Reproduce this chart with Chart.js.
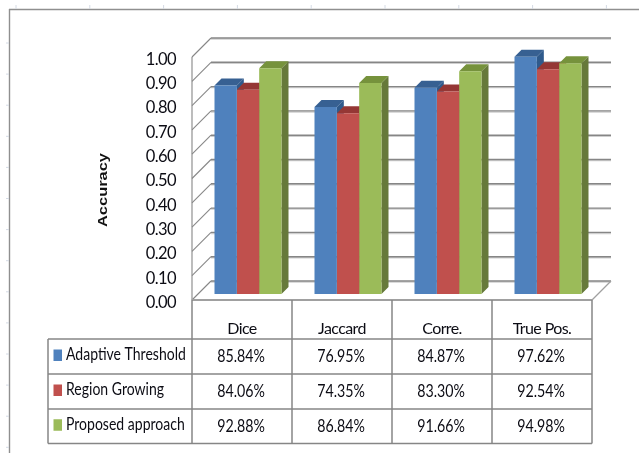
<!DOCTYPE html>
<html>
<head>
<meta charset="utf-8">
<style>
  html, body { margin: 0; padding: 0; background: #fff; }
  #wrap { position: relative; width: 639px; height: 453px; overflow: hidden; }
</style>
<script src="https://cdn.jsdelivr.net/npm/chart.js@4/dist/chart.umd.min.js"></script>
</head>
<body>
<div id="wrap"><canvas id="chart" width="639" height="453"></canvas></div>
<script>
const categories = ['Dice', 'Jaccard', 'Corre.', 'True Pos.'];
const seriesNames = ['Adaptive Threshold', 'Region Growing', 'Proposed approach'];
const adaptiveThreshold = [0.8584, 0.7695, 0.8487, 0.9762];
const regionGrowing = [0.8406, 0.7435, 0.8330, 0.9254];
const proposedApproach = [0.9288, 0.8684, 0.9166, 0.9498];
const frontColors = ['#4f81bd', '#c0504d', '#9bbb59'];
const topColors = ['#376092', '#953735', '#76923c'];
const sideColors = ['#2f5a8c', '#7f2f2d', '#66793a'];

const LINE = '#868686';
const INK = '#0c0c14';
const TEXT_FONT = 'Lato, "Open Sans", sans-serif';
const WALL = 19;         // depth of the floor and side wall
const BAR_SHIFT = 6;     // how far bars sit behind the front plane
const BAR_DEPTH = 7;     // depth of each bar
const LABEL_DROP = 2.5;  // tick text sits slightly under the front plane
const ROW_EDGES = [339, 374, 409, 443.5];
const TABLE_LEFT = 48;

function segment(ctx, x1, y1, x2, y2, color, width) {
  ctx.beginPath();
  ctx.moveTo(x1, y1);
  ctx.lineTo(x2, y2);
  ctx.strokeStyle = color;
  ctx.lineWidth = width;
  ctx.stroke();
}

function polygon(ctx, pts, color) {
  ctx.beginPath();
  pts.forEach((p, i) => i ? ctx.lineTo(p[0], p[1]) : ctx.moveTo(p[0], p[1]));
  ctx.closePath();
  ctx.fillStyle = color;
  ctx.fill();
}

// Lato set condensed: tall glyphs squeezed horizontally
function condensedText(ctx, text, x, y, squeeze) {
  ctx.save();
  ctx.translate(x, y);
  ctx.scale(squeeze, 1);
  ctx.fillText(text, 0, 0);
  ctx.restore();
}

const sheetFrame = {
  id: 'sheetFrame',
  beforeDraw(chart) {
    const ctx = chart.ctx;
    ctx.save();
    segment(ctx, 9, 9.5, 639, 9.5, '#8f8f8f', 1.4);
    segment(ctx, 9.5, 9, 9.5, 453, '#8f8f8f', 1.4);
    for (let x = 16; x < 639; x += 73.8) segment(ctx, x, 5, x, 9, '#d4dae4', 1);
    for (let y = 43; y < 453; y += 31.1) segment(ctx, 6, y, 9, y, '#d4dae4', 1);
    ctx.restore();
    ctx.letterSpacing = '-0.6px';
  }
};

const wallsAndDepth = {
  id: 'wallsAndDepth',
  beforeDatasetsDraw(chart) {
    const ctx = chart.ctx;
    const { x, y } = chart.scales;
    const left = x.left, right = x.right;
    ctx.save();
    // gridlines run along the back wall and slant forward on the side wall
    y.ticks.forEach(t => {
      const py = y.getPixelForValue(t.value) - LABEL_DROP;
      segment(ctx, left + WALL, py - WALL + 1, right + WALL, py - WALL + 1, '#cfcfcf', 1.5);
      segment(ctx, left + WALL, py - WALL, right + WALL, py - WALL, LINE, 1.4);
      segment(ctx, left, py, left + WALL, py - WALL, LINE, 1.1);
    });
    const floorY = y.getPixelForValue(0) - LABEL_DROP;
    const ceilY = y.getPixelForValue(1) - LABEL_DROP;
    segment(ctx, left, ceilY, left, floorY, LINE, 1.1);
    segment(ctx, left, floorY, right, floorY, '#a0a0a0', 1.8);
    segment(ctx, right, floorY, right + WALL, floorY - WALL, '#a0a0a0', 1.3);

    // side and top faces of the bars, behind the fronts the library draws
    chart.data.datasets.forEach((ds, di) => {
      chart.getDatasetMeta(di).data.forEach(bar => {
        const xr = bar.x + bar.width / 2 + BAR_SHIFT;
        const xl = bar.x - bar.width / 2 + BAR_SHIFT;
        const top = bar.y - LABEL_DROP - BAR_SHIFT;
        const base = bar.base - LABEL_DROP - BAR_SHIFT;
        polygon(ctx, [[xr, top], [xr + BAR_DEPTH, top - BAR_DEPTH], [xr + BAR_DEPTH, base - BAR_DEPTH], [xr, base]], sideColors[di]);
        polygon(ctx, [[xl, top], [xl + BAR_DEPTH, top - BAR_DEPTH], [xr + BAR_DEPTH, top - BAR_DEPTH], [xr, top]], topColors[di]);
      });
    });
    ctx.restore();
    ctx.save();
    ctx.translate(BAR_SHIFT, -LABEL_DROP - BAR_SHIFT);
  },
  afterDatasetsDraw(chart) {
    chart.ctx.restore();
  }
};

const dataTable = {
  id: 'dataTable',
  afterDraw(chart) {
    const ctx = chart.ctx;
    const { x, y } = chart.scales;
    const band = (x.right - x.left) / categories.length;
    const floorY = y.getPixelForValue(0) - LABEL_DROP;
    const bottom = ROW_EDGES[ROW_EDGES.length - 1];
    ctx.save();
    ctx.letterSpacing = '0px';
    ROW_EDGES.forEach(py => segment(ctx, TABLE_LEFT, py, x.right, py, LINE, 1.5));
    segment(ctx, TABLE_LEFT, ROW_EDGES[0], TABLE_LEFT, bottom, LINE, 1.5);
    for (let i = 0; i <= categories.length; i++) {
      segment(ctx, x.left + i * band, floorY, x.left + i * band, bottom, LINE, 1.5);
    }
    ctx.textBaseline = 'middle';
    chart.data.datasets.forEach((ds, di) => {
      const rowTop = ROW_EDGES[di], mid = (rowTop + ROW_EDGES[di + 1]) / 2;
      ctx.fillStyle = frontColors[di];
      ctx.fillRect(53.5, mid - 7, 8.5, 11.5);
      ctx.fillStyle = INK;
      ctx.textAlign = 'left';
      ctx.font = '16.5px ' + TEXT_FONT;
      condensedText(ctx, ds.label, 66, mid - 1.5, 0.85);
      ctx.textAlign = 'center';
      ds.data.forEach((v, i) => {
        condensedText(ctx, (v * 100).toFixed(2) + '%', x.getPixelForTick(i) - 1, mid + 0.5, 0.86);
      });
    });
    // vertical axis title
    ctx.translate(103, 190);
    ctx.rotate(-Math.PI / 2);
    ctx.font = 'bold 13px "Liberation Sans", sans-serif';
    ctx.textAlign = 'center';
    ctx.fillStyle = '#111';
    ctx.scale(74 / ctx.measureText('Accuracy').width, 1);
    ctx.fillText('Accuracy', 0, 0);
    ctx.restore();
  }
};

new Chart(document.getElementById('chart'), {
  type: 'bar',
  data: {
    labels: categories,
    datasets: [adaptiveThreshold, regionGrowing, proposedApproach].map((values, i) => ({
      label: seriesNames[i],
      data: values,
      backgroundColor: frontColors[i],
      borderWidth: 0,
      categoryPercentage: 0.67,
      barPercentage: 1
    }))
  },
  options: {
    responsive: false,
    animation: false,
    layout: { padding: { top: 59.5, right: 47, bottom: 0, left: 0 } },
    plugins: { legend: { display: false }, tooltip: { enabled: false } },
    scales: {
      x: {
        grid: { display: false },
        border: { display: false },
        ticks: {
          color: INK,
          font: { family: TEXT_FONT, size: 16 },
          padding: 9,
          maxRotation: 0
        },
        afterFit(scale) { scale.height = 150.5; }
      },
      y: {
        min: 0,
        max: 1,
        grid: { display: false, drawTicks: false },
        border: { display: false },
        ticks: {
          stepSize: 0.1,
          color: INK,
          font: { family: TEXT_FONT, size: 16.5 },
          padding: 16,
          callback: v => Number(v).toFixed(2)
        },
        afterFit(scale) { scale.width = 192; }
      }
    }
  },
  plugins: [sheetFrame, wallsAndDepth, dataTable]
});
</script>
</body>
</html>
